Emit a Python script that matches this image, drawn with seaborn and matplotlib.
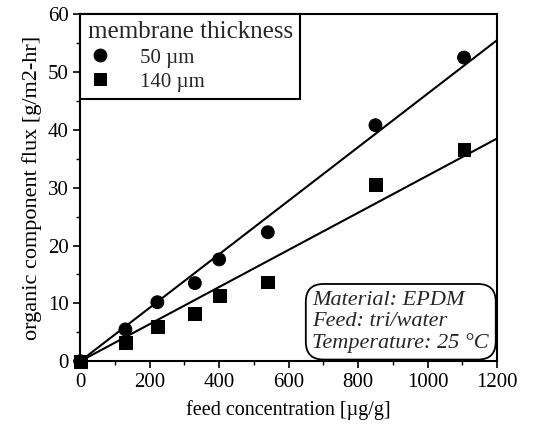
import pandas as pd
import matplotlib
matplotlib.use("Agg")
import matplotlib.pyplot as plt
import seaborn as sns
from matplotlib.ticker import MultipleLocator

# --- Data ---
conc_50 = [0, 130, 222, 330, 400, 540, 850, 1105]
flux_50 = [0, 5.5, 10.2, 13.5, 17.6, 22.3, 40.8, 52.5]
conc_140 = [0, 130, 222, 330, 400, 540, 850, 1105]
flux_140 = [0, 3.2, 6.0, 8.3, 11.3, 13.7, 30.5, 36.6]

# fitted lines (end points)
fit_x = [0, 1200]
fit_50 = [0, 55.5]
fit_140 = [0, 38.5]

labels = ['50 µm', '140 µm']


def main():
    sns.set_style("ticks")
    plt.rcParams['font.family'] = ['Liberation Serif', 'DejaVu Serif']

    df = pd.concat([
        pd.DataFrame({'conc': conc_50, 'flux': flux_50, 'thickness': labels[0]}),
        pd.DataFrame({'conc': conc_140, 'flux': flux_140, 'thickness': labels[1]}),
    ], ignore_index=True)
    fits = pd.concat([
        pd.DataFrame({'conc': fit_x, 'flux': fit_50, 'thickness': labels[0]}),
        pd.DataFrame({'conc': fit_x, 'flux': fit_140, 'thickness': labels[1]}),
    ], ignore_index=True)

    fig = plt.figure(figsize=(5.35, 4.29), dpi=100)
    ax = fig.add_axes([0.150, 0.158, 0.779, 0.809])

    sns.lineplot(data=fits, x='conc', y='flux', units='thickness', estimator=None,
                 color='black', linewidth=1.5, ax=ax, legend=False)
    sns.scatterplot(data=df, x='conc', y='flux', style='thickness',
                    markers={labels[0]: 'o', labels[1]: 's'}, color='black',
                    s=85, edgecolor='black', ax=ax, zorder=3, clip_on=False)

    ax.set_xlim(0, 1200)
    ax.set_ylim(0, 60)
    ax.xaxis.set_major_locator(MultipleLocator(200))
    ax.xaxis.set_minor_locator(MultipleLocator(100))
    ax.yaxis.set_major_locator(MultipleLocator(10))
    ax.yaxis.set_minor_locator(MultipleLocator(5))
    ax.tick_params(which='major', direction='out', length=5, width=1.2,
                   labelsize=15, color='black', labelcolor='black')
    ax.tick_params(which='minor', direction='out', length=3, width=1.0, color='black')
    for sp in ax.spines.values():
        sp.set_visible(True)
        sp.set_color('black')
        sp.set_linewidth(1.5)

    ax.set_xlabel('feed concentration [µg/g]', fontsize=14.5, color='black', labelpad=6)
    ax.set_ylabel('organic component flux [g/m2-hr]', fontsize=16, color='black', labelpad=4)

    leg = ax.legend(title='membrane thickness', loc='upper left', borderaxespad=0,
                    fancybox=False, edgecolor='black', framealpha=1,
                    fontsize=15, title_fontsize=18, alignment='left',
                    handlelength=1.2, handletextpad=1.3, borderpad=0.35,
                    labelspacing=0.22, markerscale=1.0)
    leg.get_frame().set_linewidth(1.5)

    ax.text(0.981, 0.024, 'Material: EPDM\nFeed: tri/water\nTemperature: 25 °C',
            transform=ax.transAxes, ha='right', va='bottom', multialignment='left',
            fontsize=16, style='italic', linespacing=1.15,
            bbox=dict(boxstyle='round,pad=0.3,rounding_size=0.8',
                      facecolor='white', edgecolor='black', linewidth=1.3))

    fig.savefig('out.png', dpi=100)
    plt.close(fig)


if __name__ == "__main__":
    main()
